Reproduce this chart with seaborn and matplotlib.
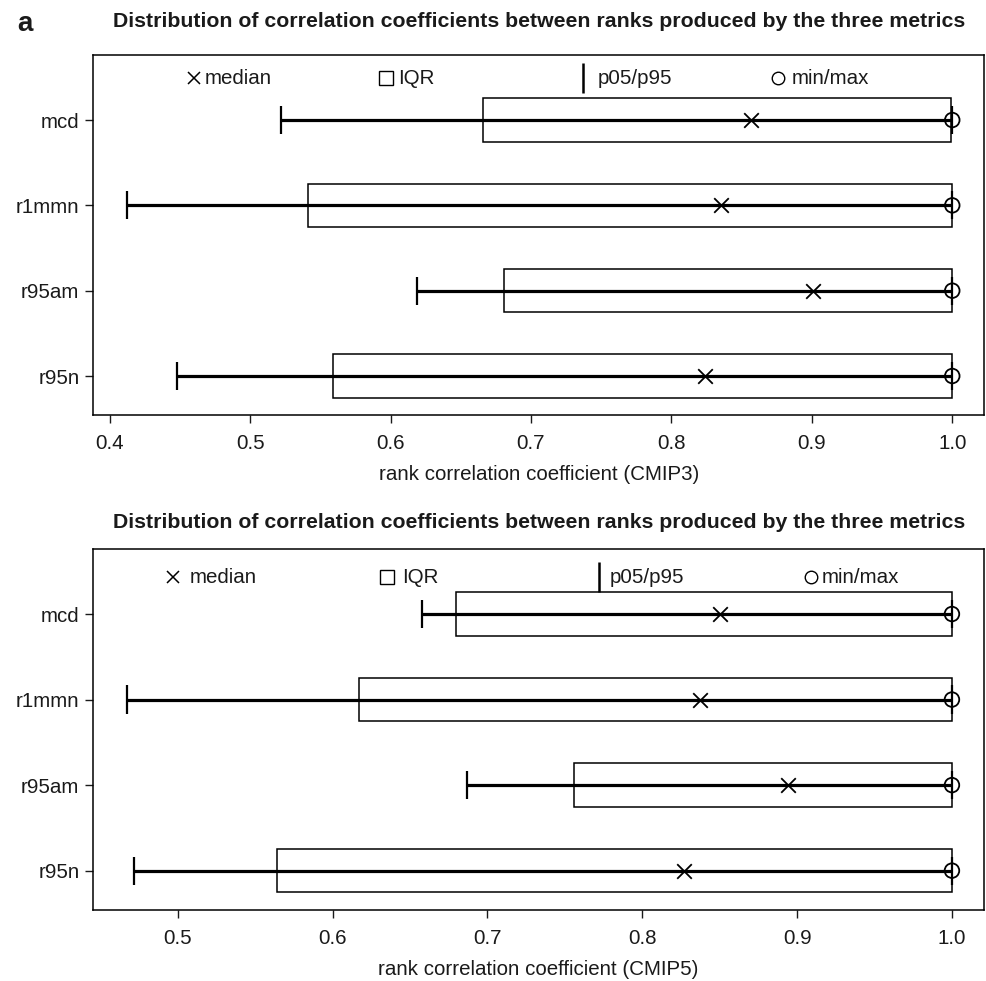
import numpy as np
import pandas as pd
import matplotlib
matplotlib.use("Agg")
import matplotlib.pyplot as plt
import seaborn as sns

# Summary statistics of rank correlation coefficients per metric
metrics = ["mcd", "r1mmn", "r95am", "r95n"]

cmip3_p05 = [0.522, 0.412, 0.619, 0.448]
cmip3_q1 = [0.666, 0.541, 0.681, 0.559]
cmip3_median = [0.857, 0.835, 0.901, 0.824]
cmip3_q3 = [0.999, 1.0, 1.0, 1.0]
cmip3_p95 = [1.0, 1.0, 1.0, 1.0]
cmip3_max = [1.0, 1.0, 1.0, 1.0]

cmip5_p05 = [0.658, 0.467, 0.687, 0.472]
cmip5_q1 = [0.680, 0.617, 0.756, 0.564]
cmip5_median = [0.850, 0.837, 0.894, 0.827]
cmip5_q3 = [1.0, 1.0, 1.0, 1.0]
cmip5_p95 = [1.0, 1.0, 1.0, 1.0]
cmip5_max = [1.0, 1.0, 1.0, 1.0]

title_text = "Distribution of correlation coefficients between ranks produced by the three metrics"

sns.set_theme(style="ticks")
plt.rcParams["font.family"] = ["Liberation Sans", "DejaVu Sans"]
plt.rcParams["axes.linewidth"] = 1.1
plt.rcParams["xtick.major.width"] = 1.0
plt.rcParams["ytick.major.width"] = 1.0
plt.rcParams["xtick.major.size"] = 6
plt.rcParams["ytick.major.size"] = 6

TXT = "#1a1a1a"
FS = 14.8
W, H = 987, 981
fig = plt.figure(figsize=(W / 100, H / 100), dpi=100)


def px_axes(left, top, right, bottom):
    return [left / W, 1 - bottom / H, (right - left) / W, (bottom - top) / H]


def draw_panel(ax, p05, q1, med, q3, p95, vmax, xlim, ylim, xticks, xlabel,
               leg_y, leg_pos):
    df = pd.DataFrame({
        "metric": metrics, "pos": np.arange(len(metrics)),
        "p05": p05, "q1": q1, "median": med, "q3": q3, "p95": p95, "max": vmax,
    })
    # whisker line from p05 through the box to the maximum
    ax.hlines(df["pos"], df["p05"], df["max"], color="black", lw=2.3, zorder=2)
    # caps at p05 / p95
    ax.vlines(df["p05"], df["pos"] - 0.165, df["pos"] + 0.165, color="black", lw=1.6, zorder=2)
    ax.vlines(df["p95"], df["pos"] - 0.165, df["pos"] + 0.165, color="black", lw=1.6, zorder=2)
    # inter-quartile box
    ax.barh(df["pos"], df["q3"] - df["q1"], left=df["q1"], height=0.51,
            fill=False, edgecolor="black", linewidth=1.1, zorder=3)
    # median crosses
    sns.scatterplot(data=df, x="median", y="pos", marker="x", color="black",
                    s=110, linewidth=1.3, ax=ax, zorder=4, legend=False)
    # maxima as open circles
    ax.scatter(df["max"], df["pos"], s=110, facecolors="none", edgecolors="black",
               linewidths=1.3, zorder=5)

    ax.set_xlim(*xlim)
    ax.set_ylim(*ylim)
    ax.set_yticks(df["pos"])
    ax.set_yticklabels(metrics)
    ax.set_xticks(xticks)
    ax.set_xticklabels([f"{t:.1f}" for t in xticks])
    ax.tick_params(axis="both", labelsize=FS, colors=TXT, labelcolor=TXT)
    ax.tick_params(axis="x", pad=8)
    ax.tick_params(axis="y", pad=4)
    ax.set_xlabel(xlabel, fontsize=FS, color=TXT, labelpad=8)
    ax.set_ylabel("")
    for s in ax.spines.values():
        s.set_color("black")

    # in-plot key
    tr = ax.transAxes
    (mx, tx), (bx, bt), (lx, lt), (cx, ct) = leg_pos
    ax.plot([mx], [leg_y], marker="x", ms=9, mew=1.1, color="black", transform=tr, clip_on=False)
    ax.text(tx, leg_y, "median", transform=tr, fontsize=FS, va="center", ha="left", color=TXT)
    ax.plot([bx], [leg_y], marker="s", ms=10, mew=1.0, mfc="none", mec="black", transform=tr, clip_on=False)
    ax.text(bt, leg_y, "IQR", transform=tr, fontsize=FS, va="center", ha="left", color=TXT)
    ax.plot([lx], [leg_y], marker="|", ms=21, mew=1.8, color="black", transform=tr, clip_on=False)
    ax.text(lt, leg_y, "p05/p95", transform=tr, fontsize=FS, va="center", ha="left", color=TXT)
    ax.plot([cx], [leg_y], marker="o", ms=9, mew=1.0, mfc="none", mec="black", transform=tr, clip_on=False)
    ax.text(ct, leg_y, "min/max", transform=tr, fontsize=FS, va="center", ha="left", color=TXT)


ax1 = fig.add_axes(px_axes(93.3, 55, 984, 415))
draw_panel(ax1, cmip3_p05, cmip3_q1, cmip3_median, cmip3_q3, cmip3_p95, cmip3_max,
           (0.3883, 1.0226), (3.457, -0.762), [0.4, 0.5, 0.6, 0.7, 0.8, 0.9, 1.0],
           "rank correlation coefficient (CMIP3)", 0.936,
           [(0.113, 0.1254), (0.329, 0.342), (0.5495, 0.5666), (0.7687, 0.7842)])

ax2 = fig.add_axes(px_axes(93.3, 549, 984, 910))
draw_panel(ax2, cmip5_p05, cmip5_q1, cmip5_median, cmip5_q3, cmip5_p95, cmip5_max,
           (0.4455, 1.0207), (3.46, -0.76), [0.5, 0.6, 0.7, 0.8, 0.9, 1.0],
           "rank correlation coefficient (CMIP5)", 0.922,
           [(0.090, 0.1086), (0.3303, 0.3466), (0.5677, 0.5801), (0.8058, 0.8181)])

cx = (93.3 + 984) / 2 / W
fig.text(cx, 1 - 27 / H, title_text, ha="center", va="baseline", fontsize=15.3,
         fontweight="bold", color=TXT)
fig.text(cx, 1 - 522 / H, title_text, ha="center", va="center", fontsize=15.3,
         fontweight="bold", color=TXT)
fig.text(17 / W, 1 - 31 / H, "a", ha="left", va="baseline", fontsize=20,
         fontweight="bold", color=TXT)

fig.savefig("out.png", dpi=100)
